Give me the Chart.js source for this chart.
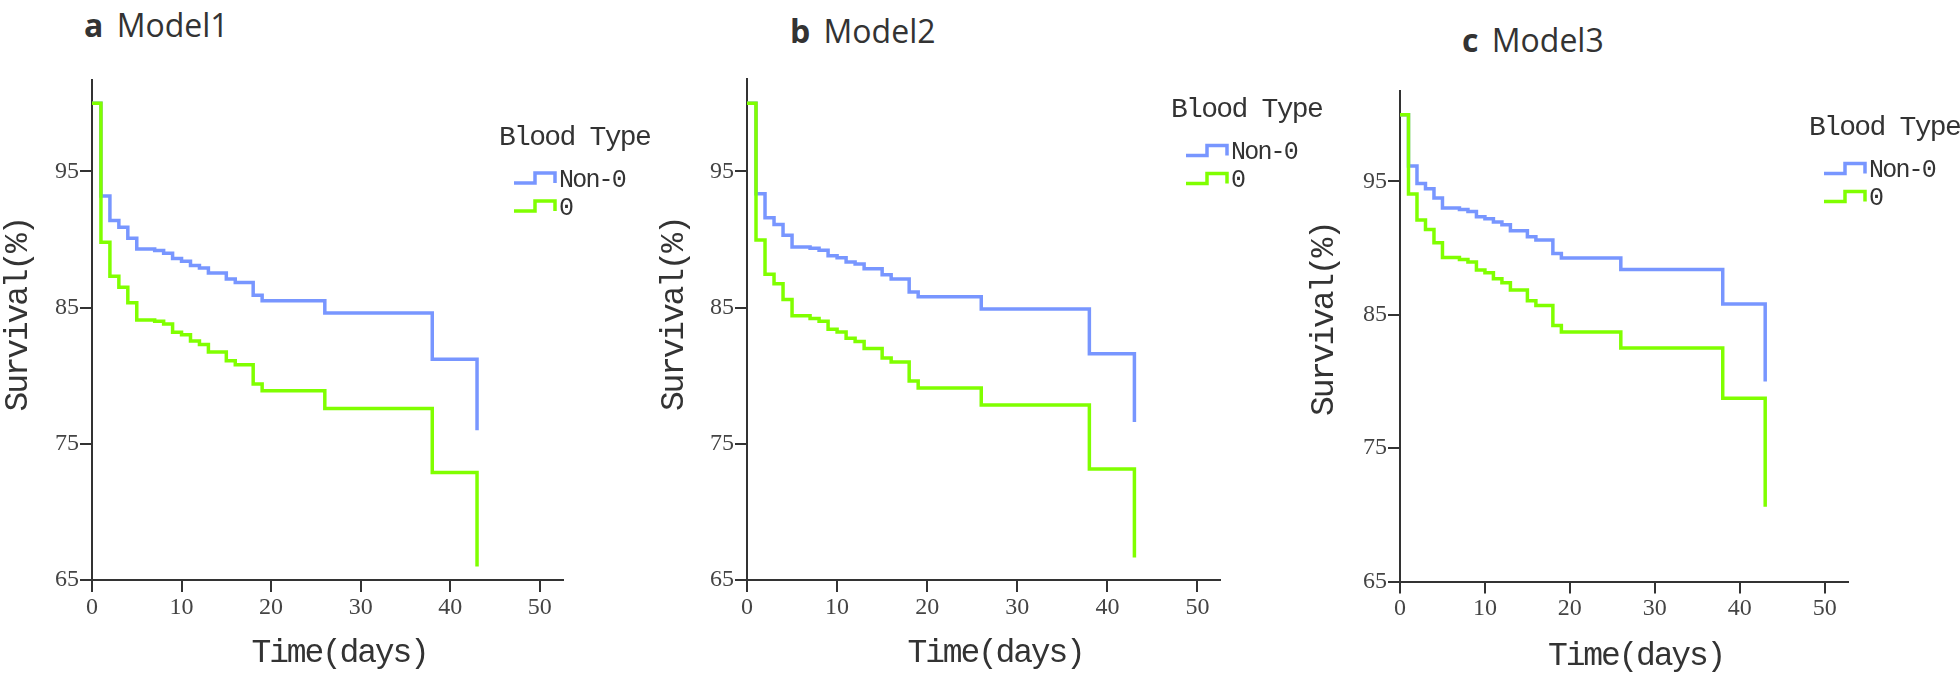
<!DOCTYPE html>
<html>
<head>
<meta charset="utf-8">
<script src="https://cdn.jsdelivr.net/npm/chart.js@4.4.1/dist/chart.umd.min.js"></script>
<style>
  html, body { margin: 0; padding: 0; background: #fff; }
  body { position: relative; width: 1960px; height: 674px; overflow: hidden; }
  canvas { position: absolute; }
  .ttl { position: absolute; font-family: "Open Sans"; font-size: 32px; line-height: 32px; color: #333; white-space: nowrap; }
  .ttl b { font-weight: 700; margin-right: 5px; }
</style>
</head>
<body>
<div class="ttl" style="left:84px;top:9px"><b>a</b> Model1</div>
<div class="ttl" style="left:790px;top:15px"><b>b</b> Model2</div>
<div class="ttl" style="left:1462px;top:24px"><b>c</b> Model3</div>
<canvas id="c1" width="700" height="614" style="left:0px;top:60px"></canvas>
<canvas id="c2" width="700" height="614" style="left:655px;top:60px"></canvas>
<canvas id="c3" width="655" height="614" style="left:1305px;top:60px"></canvas>
<script>
// time of each step (days)
const days = [0, 1, 2, 3, 4, 5, 7, 8, 9, 10, 11, 12, 13, 15, 16, 18, 19, 26, 38, 43];

// survival (%)
const model1Non0 = [100, 93.2, 91.4, 90.9, 90.1, 89.3, 89.2, 89.0, 88.6, 88.4, 88.1, 87.9, 87.55, 87.1, 86.85, 85.9, 85.5, 84.6, 81.2, 76.0];
const model1Zero = [100, 89.8, 87.3, 86.5, 85.35, 84.1, 84.0, 83.8, 83.2, 83.0, 82.55, 82.3, 81.75, 81.1, 80.8, 79.4, 78.9, 77.6, 72.9, 66.0];

const model2Non0 = [100, 93.35, 91.6, 91.1, 90.3, 89.45, 89.35, 89.2, 88.8, 88.65, 88.35, 88.2, 87.85, 87.4, 87.1, 86.15, 85.8, 84.9, 81.6, 76.6];
const model2Zero = [100, 89.95, 87.45, 86.75, 85.6, 84.4, 84.2, 84.0, 83.4, 83.2, 82.75, 82.5, 82.0, 81.3, 81.0, 79.6, 79.1, 77.85, 73.15, 66.65];

const model3Non0 = [100, 96.15, 94.85, 94.45, 93.75, 93.0, 92.9, 92.75, 92.35, 92.2, 91.95, 91.75, 91.3, 90.85, 90.6, 89.6, 89.25, 88.4, 85.8, 80.0];
const model3Zero = [100, 94.05, 92.1, 91.4, 90.4, 89.3, 89.15, 88.95, 88.35, 88.15, 87.7, 87.4, 86.85, 86.05, 85.7, 84.2, 83.7, 82.5, 78.75, 70.6];

const xTicks = [0, 10, 20, 30, 40, 50];
const yTicks = [65, 75, 85, 95];
const groupNames = ['Non-0', '0'];
const legendTitle = 'Blood Type';
const xTitle = 'Time(days)';
const yTitle = 'Survival(%)';

const blue = '#7896ff';
const green = '#80ff00';
const ink = '#333';

const panels = [
  { id: 'c1', left: 0, top: 60, pad: { left: 0, top: 19.5, right: 137, bottom: 0 }, yw: 92, xh: 94,
    xmax: 52.6, ymax: 101.75, non0: model1Non0, zero: model1Zero,
    legend: { x: 560, y: 137.6 }, yT: { dx: 74, dy: -14 }, xT: { dx: 11, dy: 73 } },
  { id: 'c2', left: 655, top: 60, pad: { left: 0, top: 18.7, right: 135, bottom: 0 }, yw: 92, xh: 94,
    xmax: 52.5, ymax: 101.8, non0: model2Non0, zero: model2Zero,
    legend: { x: 1232, y: 110 }, yT: { dx: 73, dy: -14 }, xT: { dx: 11, dy: 73 } },
  { id: 'c3', left: 1305, top: 60, pad: { left: 0, top: 31, right: 112, bottom: 0 }, yw: 95, xh: 92.5,
    xmax: 52.75, ymax: 101.78, non0: model3Non0, zero: model3Zero,
    legend: { x: 1870, y: 128 }, yT: { dx: 76, dy: -16 }, xT: { dx: 11, dy: 74.5 } }
];

// mono text squeezed a bit (the original font is narrower)
function monoText(ctx, txt, x, y, size, spacing) {
  ctx.font = size + 'px "Liberation Mono"';
  if ('letterSpacing' in ctx) {
    ctx.letterSpacing = spacing + 'px';
    // trailing spacing shifts centred text, compensate
    if (ctx.textAlign === 'center') x -= spacing / 2;
  }
  ctx.fillText(txt, x, y);
  if ('letterSpacing' in ctx) ctx.letterSpacing = '0px';
}

// axis titles + step legend
const kmDecor = {
  id: 'kmDecor',
  afterDraw(chart, args, p) {
    const ctx = chart.ctx;
    const ca = chart.chartArea;
    ctx.save();
    ctx.fillStyle = ink;
    ctx.textBaseline = 'middle';

    ctx.textAlign = 'center';
    monoText(ctx, xTitle, (ca.left + ca.right) / 2 + p.xT.dx, ca.bottom + p.xT.dy, 33, -2.2);

    ctx.save();
    ctx.translate(ca.left - p.yT.dx, (ca.top + ca.bottom) / 2 + p.yT.dy);
    ctx.rotate(-Math.PI / 2);
    monoText(ctx, yTitle, 0, 0, 33, -2.2);
    ctx.restore();

    const lx = p.legend.x - p.left;
    const ly = p.legend.y - p.top;
    ctx.textAlign = 'left';
    monoText(ctx, legendTitle, lx - 61, ly, 28, -1.7);

    const rows = [[groupNames[0], blue, ly + 42.5], [groupNames[1], green, ly + 70.5]];
    rows.forEach(([name, col, cy]) => {
      ctx.strokeStyle = col;
      ctx.lineWidth = 3.5;
      ctx.lineJoin = 'miter';
      ctx.beginPath();
      ctx.moveTo(lx - 46, cy + 3);
      ctx.lineTo(lx - 25, cy + 3);
      ctx.lineTo(lx - 25, cy - 7);
      ctx.lineTo(lx - 5, cy - 7);
      ctx.lineTo(lx - 5, cy + 3);
      ctx.stroke();
      ctx.fillStyle = ink;
      monoText(ctx, name, lx - 1, cy, 25, -1.8);
    });
    ctx.restore();
  }
};

function pts(vals) {
  return days.map((d, i) => ({ x: d, y: vals[i] }));
}

const tickFont = { family: 'Liberation Serif', size: 24 };

panels.forEach(p => {
  new Chart(document.getElementById(p.id), {
    type: 'line',
    data: {
      datasets: [{
        label: groupNames[0],
        data: pts(p.non0),
        borderColor: blue,
        order: 1
      }, {
        label: groupNames[1],
        data: pts(p.zero),
        borderColor: green,
        order: 0
      }]
    },
    options: {
      responsive: false,
      animation: false,
      devicePixelRatio: 1,
      layout: { padding: p.pad },
      datasets: {
        line: { stepped: 'before', borderWidth: 3.5, pointRadius: 0, fill: false, borderJoinStyle: 'miter', tension: 0 }
      },
      scales: {
        x: {
          type: 'linear', min: 0, max: p.xmax,
          afterBuildTicks: a => { a.ticks = xTicks.map(v => ({ value: v })); },
          afterFit: a => { a.height = p.xh; },
          border: { display: true, color: ink, width: 2 },
          grid: { drawOnChartArea: false, drawTicks: true, tickLength: 12, color: ink, lineWidth: 2 },
          ticks: { font: tickFont, color: '#444', padding: 1, maxRotation: 0 }
        },
        y: {
          type: 'linear', min: 65, max: p.ymax,
          afterBuildTicks: a => { a.ticks = yTicks.map(v => ({ value: v })); },
          afterFit: a => { a.width = p.yw; },
          border: { display: true, color: ink, width: 2 },
          grid: { drawOnChartArea: false, drawTicks: true, tickLength: 12, color: ink, lineWidth: 2 },
          ticks: { font: tickFont, color: '#444', padding: 1 }
        }
      },
      plugins: {
        legend: { display: false },
        tooltip: { enabled: false },
        kmDecor: p
      }
    },
    plugins: [kmDecor]
  });
});
</script>
</body>
</html>
